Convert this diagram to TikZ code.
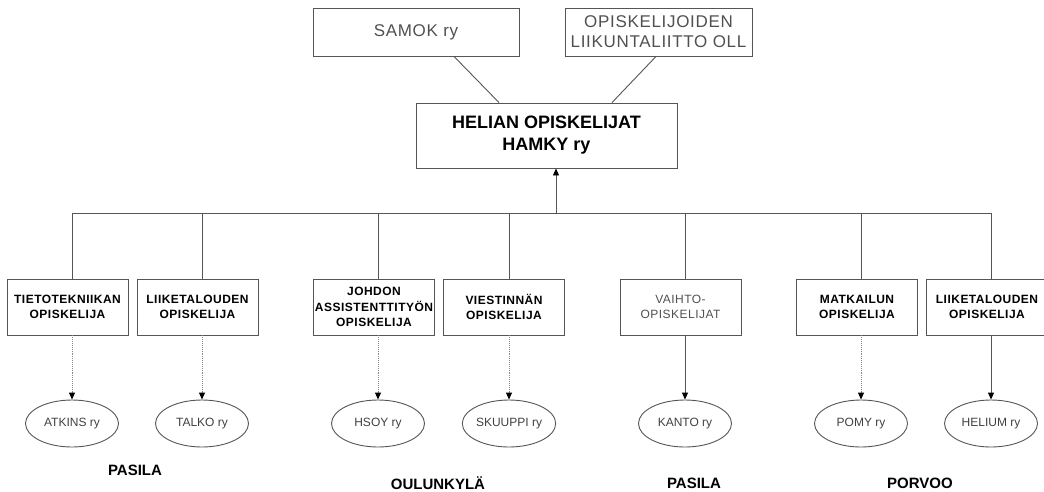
\documentclass[tikz,border=0pt]{standalone}
\usepackage{fontspec}
\setmainfont{Liberation Sans}
\usetikzlibrary{arrows.meta,positioning,shapes.geometric,calc}
\definecolor{viiva}{RGB}{85,85,85}
\definecolor{teksti}{RGB}{80,80,80}

\tikzset{
  ylabox/.style={draw=viiva,line width=0.9pt,minimum height=48pt,inner sep=0pt,
                 align=center,font=\fontsize{17}{20}\selectfont\addfontfeatures{LetterSpace=4},text=teksti},
  ydinbox/.style={draw=viiva,line width=0.9pt,minimum width=261pt,minimum height=65pt,
                 align=center,font=\fontsize{18}{22}\selectfont\bfseries},
  alabox/.style={draw=viiva,line width=0.9pt,minimum width=121pt,minimum height=56pt,
                 inner sep=0pt,align=center,font=\fontsize{12}{15.5}\selectfont\bfseries\addfontfeatures{LetterSpace=4}},
  yhdistys/.style={ellipse,draw=viiva,line width=0.9pt,minimum width=93pt,minimum height=47pt,
                 inner sep=0pt,font=\fontsize{12}{14}\selectfont,text=teksti!80!black},
  paikka/.style={font=\fontsize{15}{18}\selectfont\bfseries},
  yhteys/.style={draw=viiva,line width=0.9pt},
  nuoli/.style={yhteys,-{Triangle[width=6pt,length=7pt,fill=black,color=black]}},
  piste/.style={nuoli,draw=viiva!70,densely dotted}
}

\begin{document}
\begin{tikzpicture}[x=1pt,y=-1pt]
    \useasboundingbox (0,0) rectangle (1044,491);
    % kattojarjestot
    \node[ylabox,minimum width=206pt] (samok) at (416,32) {SAMOK ry};
    \node[ylabox,minimum width=187pt] (oll) at (658.5,32) {OPISKELIJOIDEN\\LIIKUNTALIITTO OLL};
    \node[ydinbox] (hamky) at (546.5,135.5) {HELIAN OPISKELIJAT\\HAMKY ry};
    \draw[yhteys] ([xshift=38pt]samok.south) -- ([xshift=-47.5pt]hamky.north);
    \draw[yhteys] ([xshift=-2.5pt]oll.south) -- ([xshift=65.5pt]hamky.north);
    % vaakaviiva
    \coordinate (vasen) at (72,213);
    \coordinate (oikea) at (991,213);
    \coordinate (keski) at (556,213);
    \draw[yhteys] (vasen) -- (oikea);
    \draw[nuoli] (keski) -- (keski |- hamky.south);
    % opiskelijaryhmat
    \node[alabox] (tite) at (67.5,307) {TIETOTEKNIIKAN\\OPISKELIJA};
    \node[alabox] (liike) at (197.5,307) {LIIKETALOUDEN\\OPISKELIJA};
    \node[alabox] (johdon) at (374,307) {JOHDON\\ASSISTENTTITYÖN\\OPISKELIJA};
    \node[alabox] (viest) at (504,307) {VIESTINNÄN\\OPISKELIJA};
    \node[alabox,font=\fontsize{12}{15.5}\selectfont\addfontfeatures{LetterSpace=4},text=teksti] (vaihto) at (680.5,307) {VAIHTO-\\OPISKELIJAT};
    \node[alabox] (matk) at (857,307) {MATKAILUN\\OPISKELIJA};
    \node[alabox] (liikep) at (987,307) {LIIKETALOUDEN\\OPISKELIJA};
    % yhdistykset
    \node[yhdistys] (atkins) at (72,423.5) {ATKINS ry};
    \node[yhdistys] (talko) at (202,423.5) {TALKO ry};
    \node[yhdistys] (hsoy) at (378,423.5) {HSOY ry};
    \node[yhdistys] (skuuppi) at (509,423.5) {SKUUPPI ry};
    \node[yhdistys] (kanto) at (685,423.5) {KANTO ry};
    \node[yhdistys] (pomy) at (861,423.5) {POMY ry};
    \node[yhdistys] (helium) at (991,423.5) {HELIUM ry};
    \foreach \r/\y in {tite/atkins,liike/talko,johdon/hsoy,viest/skuuppi,vaihto/kanto,matk/pomy,liikep/helium}{
      \draw[yhteys] (vasen -| \y) -- (\y |- \r.north);}
    \foreach \r/\y in {tite/atkins,liike/talko,johdon/hsoy,viest/skuuppi,matk/pomy}{
      \draw[piste] (\y |- \r.south) -- (\y.north);}
    \foreach \r/\y in {vaihto/kanto,liikep/helium}{
      \draw[nuoli] (\y |- \r.south) -- (\y.north);}
    % paikkakunnat
    \node[paikka] (pasila) at (135,470) {PASILA};
    \node[paikka] (oulunkyla) at (438,483) {OULUNKYLÄ};
    \node[paikka] (pasilab) at (694,483) {PASILA};
    \node[paikka] (porvoo) at (920,483) {PORVOO};
  \end{tikzpicture}
\end{document}
